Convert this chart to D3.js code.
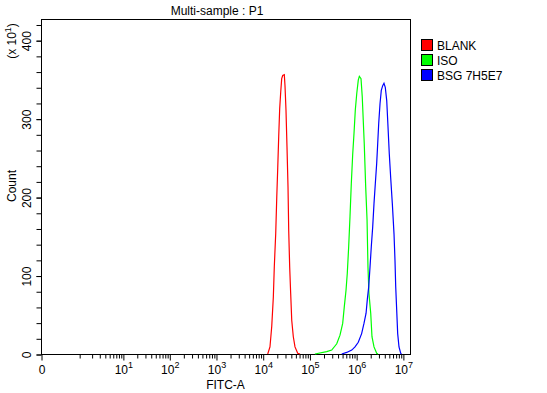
<!DOCTYPE html>
<html>
<head>
<meta charset="utf-8">
<script src="https://cdn.jsdelivr.net/npm/d3@7"></script>
<style>
  body { margin: 0; background: #fff; }
  svg { font-family: "Liberation Sans", Arial, sans-serif; }
</style>
</head>
<body>
<div id="root"></div>
<script>
// histogram traces: FITC-A value and count (x 10^1)
const blankX = [1.28e4, 1.43e4, 1.56e4, 1.69e4, 1.77e4, 1.90e4, 2.0e4, 2.10e4, 2.20e4, 2.31e4, 2.43e4, 2.55e4, 2.68e4,
  2.90e4, 3.0e4, 3.15e4, 3.31e4, 3.48e4, 3.60e4, 3.78e4, 3.97e4, 4.18e4, 4.52e4, 4.91e4, 5.61e4, 6.29e4];
const blankY = [0, 9, 35, 73, 111, 154, 200, 238, 277, 313, 334, 351, 355,
  356, 342, 311, 264, 213, 158, 111, 77, 43, 22, 9, 1, 0];

const isoX = [1.31e5, 2.34e5, 3.0e5, 3.84e5, 4.51e5, 5.15e5, 5.57e5, 6.06e5, 6.46e5, 6.92e5, 7.38e5, 7.87e5, 8.44e5,
  8.99e5, 9.59e5, 1.03e6, 1.11e6, 1.17e6, 1.27e6, 1.35e6, 1.49e6, 1.60e6, 1.71e6, 1.79e6, 1.88e6, 2.05e6,
  2.18e6, 2.41e6, 2.75e6, 2.93e6];
const isoY = [0, 3, 5, 13, 24, 39, 60, 81, 103, 137, 175, 217, 255,
  281, 311, 332, 349, 354, 351, 328, 268, 213, 171, 111, 77, 52,
  22, 9, 1, 0];

const bsgX = [4.91e5, 6.28e5, 8.04e5, 9.45e5, 1.11e6, 1.31e6, 1.47e6, 1.63e6, 1.73e6, 1.86e6, 1.98e6, 2.11e6, 2.26e6,
  2.41e6, 2.57e6, 2.75e6, 2.89e6, 3.04e6, 3.24e6, 3.45e6, 3.70e6, 3.94e6, 4.20e6, 4.51e6, 4.80e6, 5.12e6,
  5.48e6, 5.94e6, 6.46e6, 6.78e6, 7.02e6, 7.37e6, 7.74e6, 8.26e6, 8.98e6, 9.3e6];
const bsgY = [0, 2, 5, 9, 15, 26, 39, 52, 69, 86, 111, 137, 162,
  192, 217, 243, 268, 294, 319, 336, 342, 345, 340, 323, 290, 255,
  225, 192, 153, 119, 86, 56, 26, 9, 1, 0];

const seriesNames = ['BLANK', 'ISO', 'BSG 7H5E7'];
const seriesColors = ['#ff0000', '#00ff00', '#0000ff'];

const yMajorTicks = [0, 100, 200, 300, 400];
const yMinorTicks = d3.range(0, 428, 20);
const xMajorTicks = [0, 1e1, 1e2, 1e3, 1e4, 1e5, 1e6, 1e7];
const xMinorTicks = [];
for (let e = 0; e < 7; e++) {
  for (let m = 1; m < 10; m++) {
    if (!(m === 1 && e > 0)) xMinorTicks.push(m * Math.pow(10, e));
  }
}

const width = 547, height = 393;
const plotLeft = 41, plotRight = 410, plotTop = 19, plotBottom = 354;

const svg = d3.select('#root').append('svg')
  .attr('width', width)
  .attr('height', height)
  .attr('viewBox', [0, 0, width, height]);

const x = d3.scaleSymlog().constant(0.18)
  .domain([0, 1.42e7])
  .range([plotLeft, plotRight]);
const y = d3.scaleLinear()
  .domain([0, 427])
  .range([plotBottom, plotTop]);

// frame
svg.append('rect')
  .attr('x', plotLeft + 0.5).attr('y', plotTop + 0.5)
  .attr('width', plotRight - plotLeft).attr('height', plotBottom - plotTop)
  .attr('fill', 'none').attr('stroke', '#000').attr('stroke-width', 1);

// y axis
const yMinor = svg.append('g')
  .attr('transform', `translate(${plotLeft + 0.5},0.5)`)
  .call(d3.axisLeft(y).tickValues(yMinorTicks).tickSize(5).tickFormat(''));
yMinor.select('.domain').remove();

const yAxis = svg.append('g')
  .attr('transform', `translate(${plotLeft + 0.5},0.5)`)
  .call(d3.axisLeft(y).tickValues(yMajorTicks).tickSize(5));
yAxis.select('.domain').remove();
yAxis.selectAll('text')
  .attr('transform', 'rotate(-90)')
  .attr('x', 0).attr('y', -11).attr('dy', 0)
  .attr('text-anchor', 'middle')
  .attr('font-size', 12)
  .attr('font-family', '"Liberation Sans", Arial, sans-serif');

// x axis
const xMinor = svg.append('g')
  .attr('transform', `translate(0.5,${plotBottom + 0.5})`)
  .call(d3.axisBottom(x).tickValues(xMinorTicks).tickSize(4).tickFormat(''));
xMinor.select('.domain').remove();

const xAxis = svg.append('g')
  .attr('transform', `translate(0.5,${plotBottom + 0.5})`)
  .call(d3.axisBottom(x).tickValues(xMajorTicks).tickSize(6).tickFormat(''));
xAxis.select('.domain').remove();
xAxis.selectAll('.tick').each(function(d) {
  const t = d3.select(this).append('text')
    .attr('fill', '#000')
    .attr('y', 19.5)
    .attr('font-size', 12)
    .attr('font-family', '"Liberation Sans", Arial, sans-serif')
    .attr('text-anchor', 'middle');
  if (d === 0) {
    t.text('0');
  } else {
    t.append('tspan').text('10');
    t.append('tspan').attr('dy', -6).attr('font-size', 9).text(Math.round(Math.log10(d)));
  }
});

svg.selectAll('.tick line').attr('stroke', '#000');

// axis titles
svg.append('text')
  .attr('x', 217).attr('y', 15)
  .attr('text-anchor', 'middle')
  .attr('font-size', 12)
  .text('Multi-sample : P1');

svg.append('text')
  .attr('x', 225.5).attr('y', 389)
  .attr('text-anchor', 'middle')
  .attr('font-size', 12)
  .text('FITC-A');

svg.append('text')
  .attr('transform', 'translate(16,186) rotate(-90)')
  .attr('text-anchor', 'middle')
  .attr('font-size', 12)
  .text('Count');

const unit = svg.append('text')
  .attr('transform', 'translate(16,41) rotate(-90)')
  .attr('text-anchor', 'middle')
  .attr('font-size', 12);
unit.append('tspan').text('(x 10');
unit.append('tspan').attr('dy', -5).attr('font-size', 9).text('1');
unit.append('tspan').attr('dy', 5).text(')');

// traces
const line = d3.line()
  .x(d => x(d[0]))
  .y(d => y(d[1]));

const traces = [
  d3.zip(blankX, blankY),
  d3.zip(isoX, isoY),
  d3.zip(bsgX, bsgY)
];

svg.append('g')
  .selectAll('path')
  .data(traces)
  .join('path')
  .attr('d', line)
  .attr('fill', 'none')
  .attr('stroke', (d, i) => seriesColors[i])
  .attr('stroke-width', 1.2);

// legend
const legend = svg.append('g')
  .selectAll('g')
  .data(seriesNames)
  .join('g')
  .attr('transform', (d, i) => `translate(421,${39 + i * 15})`);

legend.append('rect')
  .attr('x', 0.5).attr('y', 0.5)
  .attr('width', 11).attr('height', 11)
  .attr('fill', (d, i) => seriesColors[i])
  .attr('stroke', '#000');

legend.append('text')
  .attr('x', 16).attr('y', 10.5)
  .attr('font-size', 12)
  .text(d => d);
</script>
</body>
</html>
